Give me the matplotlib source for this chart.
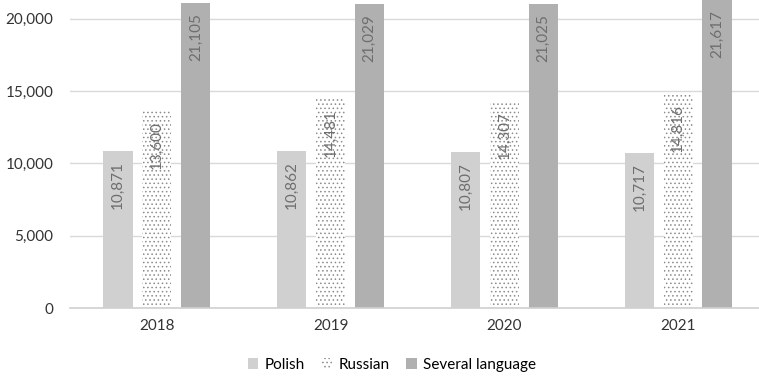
import matplotlib
matplotlib.use('Agg')
import matplotlib.pyplot as plt
import numpy as np

plt.rcParams['font.family'] = ['Lato', 'DejaVu Sans']
plt.rcParams['hatch.linewidth'] = 0.6

years = ['2018', '2019', '2020', '2021']
polish = [10871, 10862, 10807, 10717]
russian = [13600, 14481, 14307, 14816]
several = [21105, 21029, 21025, 21617]
series_names = ['Polish', 'Russian', 'Several language']

fig = plt.figure(figsize=(7.59, 3.77), dpi=100)
ax = fig.add_axes([70/759, 1 - 308/377, 689/759, 308/377])

x = np.arange(len(years))
w = 0.168
step = 0.224
ymax = 21300

b1 = ax.bar(x - step, polish, w, color='#d0d0d0', label=series_names[0], zorder=2)
b2 = ax.bar(x, russian, w, color='white', edgecolor='#8c8c8c', linewidth=0,
            hatch='....', label=series_names[1], zorder=2)
b3 = ax.bar(x + step, several, w, color='#b0b0b0', label=series_names[2], zorder=2)

for bars, vals in [(b1, polish), (b2, russian), (b3, several)]:
    for r, v in zip(bars, vals):
        top = min(v, ymax)
        ax.text(r.get_x() + r.get_width()/2, top - 700, f'{v:,}', rotation=90,
                ha='center', va='top', fontsize=11, color='#6e6e6e', zorder=3)

ax.set_xlim(-0.5, 3.5 - 6/173.7)
ax.set_ylim(0, ymax)
ax.set_yticks([0, 5000, 10000, 15000, 20000])
ax.set_yticklabels(['0', '5,000', '10,000', '15,000', '20,000'])
ax.set_xticks(x)
ax.set_xticklabels(years)
ax.tick_params(axis='both', length=0, labelsize=11, colors='#333333')
ax.tick_params(axis='x', pad=8)
ax.tick_params(axis='y', pad=12)
ax.yaxis.grid(True, color='#d9d9d9', linewidth=1, zorder=0)
ax.set_axisbelow(True)
for s in ['top', 'right', 'left']:
    ax.spines[s].set_visible(False)
ax.spines['bottom'].set_color('#d0d0d0')
ax.spines['bottom'].set_linewidth(1.2)

fig.legend(loc='center', bbox_to_anchor=(392/759, 1 - 365/377), ncol=3, frameon=False,
           fontsize=11, handlelength=0.7, handleheight=0.7, handletextpad=0.4,
           columnspacing=1.1)

fig.savefig('out.png', dpi=100)
